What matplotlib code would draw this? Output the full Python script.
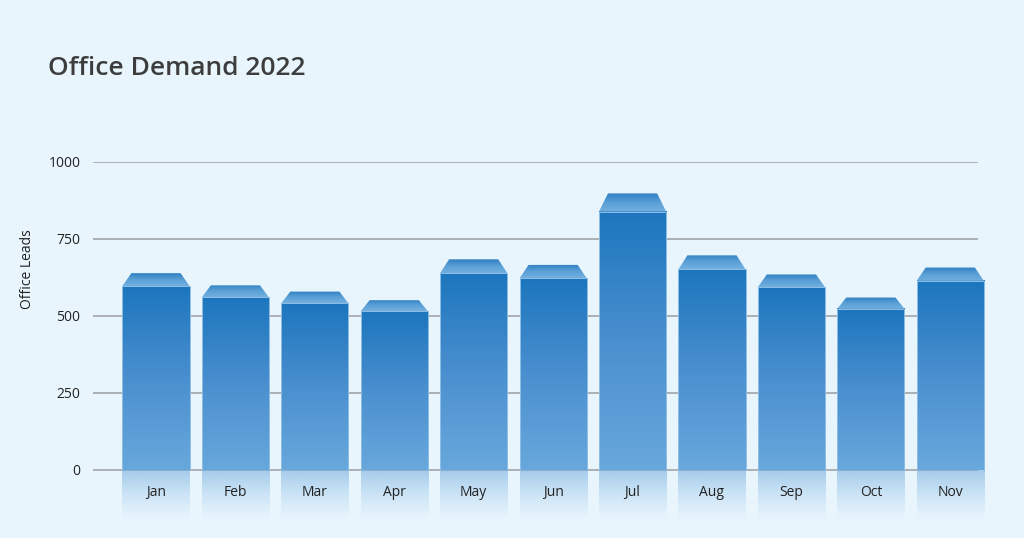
import numpy as np
import matplotlib
matplotlib.use("Agg")
import matplotlib.pyplot as plt
from matplotlib.patches import Polygon
from matplotlib.colors import LinearSegmentedColormap, to_rgb

months = ["Jan", "Feb", "Mar", "Apr", "May", "Jun", "Jul", "Aug", "Sep", "Oct", "Nov"]
leads = [597, 560, 541, 515, 639, 622, 839, 651, 593, 523, 614]
y_ticks = [0, 250, 500, 750, 1000]

bg = "#e8f5fd"
plt.rcParams["font.family"] = ["Open Sans", "DejaVu Sans"]

fig = plt.figure(figsize=(10.24, 5.38), dpi=100, facecolor=bg)
ax = fig.add_axes([0.0908, 0.0266, 0.8721, 0.6724])
ax.set_facecolor(bg)

width = 0.845
inset = 0.113
refl_depth = 165

front_cmap = LinearSegmentedColormap.from_list("front", ["#68a8dc", "#4a8fcf", "#1c76bd"])
cap_cmap = LinearSegmentedColormap.from_list("cap", ["#72b0e0", "#5a9fd6", "#2f80c2"])
grad = np.linspace(0, 1, 256).reshape(-1, 1)

# reflection: fading light blue
refl = np.zeros((256, 1, 4))
refl[:, 0, :3] = to_rgb("#6aa8dc")
refl[:, 0, 3] = np.linspace(0.0, 0.62, 256) ** 1.3

# gridlines stop a bit short of the last bar
ax.hlines(y_ticks, -0.793, 10.35, color="#a0a4a8", lw=1.2, zorder=1)

for i, v in enumerate(leads):
    x0, x1 = i - width / 2, i + width / 2
    ax.imshow(grad, cmap=front_cmap, extent=[x0, x1, 0, v], origin="lower",
              aspect="auto", zorder=3, interpolation="bicubic")
    ax.plot([x0, x0, x1, x1], [0, v, v, 0], color="#8ebfe6", lw=0.7, zorder=4)
    cap_h = v * 0.07
    cap = Polygon([[x0, v], [x0 + inset, v + cap_h], [x1 - inset, v + cap_h], [x1, v]],
                  closed=True, facecolor="none", edgecolor="none", zorder=4)
    ax.add_patch(cap)
    im = ax.imshow(grad, cmap=cap_cmap, extent=[x0, x1, v, v + cap_h], origin="lower",
                   aspect="auto", zorder=3, interpolation="bicubic")
    im.set_clip_path(cap)
    ax.imshow(refl, extent=[x0, x1, -refl_depth, 0], origin="lower",
              aspect="auto", zorder=3)
    ax.text(i, -75, months[i], ha="center", va="center", fontsize=10, color="#222222",
            fontweight="medium", zorder=5)

ax.set_xlim(-0.793, 10.45)
ax.set_ylim(-175, 1000)
ax.set_yticks(y_ticks)
ax.set_yticklabels([str(t) for t in y_ticks], fontsize=10, color="#222222", fontweight="medium")
ax.tick_params(axis="y", length=0, pad=9)
ax.set_xticks([])
for s in ax.spines.values():
    s.set_visible(False)

fig.text(0.0264, 0.499, "Office Leads", rotation=90, ha="center", va="center",
         fontsize=10, color="#222222", fontweight="medium")
fig.text(0.047, 0.873, "Office Demand 2022", ha="left", va="center",
         fontsize=19, color="#3d3d3d", fontweight="semibold")

fig.savefig("out.png", dpi=100, facecolor=bg)
